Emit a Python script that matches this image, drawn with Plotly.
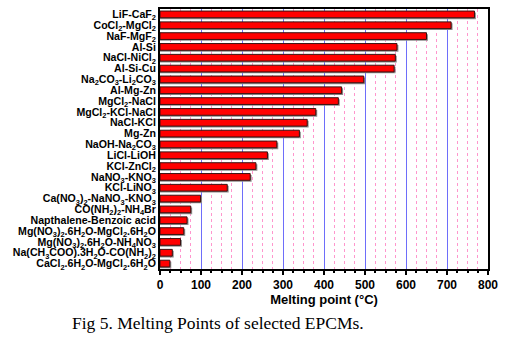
import plotly.graph_objects as go

materials = [
    "LiF-CaF<sub>2</sub>",
    "CoCl<sub>2</sub>-MgCl<sub>2</sub>",
    "NaF-MgF<sub>2</sub>",
    "Al-Si",
    "NaCl-NiCl<sub>2</sub>",
    "Al-Si-Cu",
    "Na<sub>2</sub>CO<sub>3</sub>-Li<sub>2</sub>CO<sub>3</sub>",
    "Al-Mg-Zn",
    "MgCl<sub>2</sub>-NaCl",
    "MgCl<sub>2</sub>-KCl-NaCl",
    "NaCl-KCl",
    "Mg-Zn",
    "NaOH-Na<sub>2</sub>CO<sub>3</sub>",
    "LiCl-LiOH",
    "KCl-ZnCl<sub>2</sub>",
    "NaNO<sub>3</sub>-KNO<sub>3</sub>",
    "KCl-LiNO<sub>3</sub>",
    "Ca(NO<sub>3</sub>)<sub>2</sub>-NaNO<sub>3</sub>-KNO<sub>3</sub>",
    "CO(NH<sub>2</sub>)<sub>2</sub>-NH<sub>4</sub>Br",
    "Napthalene-Benzoic acid",
    "Mg(NO<sub>3</sub>)<sub>2</sub>.6H<sub>2</sub>O-MgCl<sub>2</sub>.6H<sub>2</sub>O",
    "Mg(NO<sub>3</sub>)<sub>2</sub>.6H<sub>2</sub>O-NH<sub>4</sub>NO<sub>3</sub>",
    "Na(CH<sub>3</sub>COO).3H<sub>2</sub>O-CO(NH<sub>2</sub>)<sub>2</sub>",
    "CaCl<sub>2</sub>.6H<sub>2</sub>O-MgCl<sub>2</sub>.6H<sub>2</sub>O",
]
melting_points = [767, 710, 650, 578, 574, 571, 497, 443, 435, 380, 359, 340,
                  285, 262, 234, 220, 164, 99, 75, 66, 58, 50, 30, 24]

x_ticks = [0, 100, 200, 300, 400, 500, 600, 700, 800]

BAR_W = 0.62
positions = list(range(len(materials)))

fig = go.Figure()
# drop shadow
fig.add_trace(go.Bar(
    x=[v + 3.5 for v in melting_points], y=positions, orientation="h",
    width=BAR_W, offset=-BAR_W / 2 + 0.13,
    marker=dict(color="rgb(140,140,140)", line=dict(width=0)),
    hoverinfo="skip", showlegend=False,
))
fig.add_trace(go.Bar(
    x=melting_points, y=positions, orientation="h",
    width=BAR_W, offset=-BAR_W / 2,
    marker=dict(color="#ff0000", line=dict(color="#3a1010", width=1)),
    showlegend=False,
))

fig.update_layout(
    width=521, height=350,
    margin=dict(l=160, r=33, t=7, b=81),
    paper_bgcolor="white", plot_bgcolor="white",
    barmode="overlay",
    font=dict(family="Liberation Sans, Arial, sans-serif", color="black"),
)
fig.update_xaxes(
    range=[0, 800], tickvals=x_ticks, ticktext=[str(t) for t in x_ticks],
    tickfont=dict(size=12, weight="bold"),
    showline=True, linecolor="black", linewidth=2, mirror=True,
    ticks="outside", ticklen=4, tickwidth=1.5, tickcolor="black",
    showgrid=True, gridcolor="rgb(110,110,250)", gridwidth=1,
    minor=dict(dtick=25, showgrid=True, gridcolor="rgb(255,150,205)",
               griddash="dot", gridwidth=1, ticks="outside", ticklen=2,
               tickcolor="black"),
    title=dict(text="<b>Melting point (°C)</b>", font=dict(size=13), standoff=3),
    zeroline=False,
)
fig.update_yaxes(
    range=[len(materials) - 0.5, -0.5],
    tickvals=positions, ticktext=materials,
    tickfont=dict(size=10.6, weight="bold"),
    showline=True, linecolor="black", linewidth=2, mirror=True,
    ticks="", showgrid=False, zeroline=False,
)
fig.add_annotation(
    text="Fig 5. Melting Points of selected EPCMs.",
    xref="paper", yref="paper", x=-0.274, y=-0.206,
    xanchor="left", yanchor="middle", showarrow=False,
    font=dict(family="Liberation Serif, Times New Roman, serif", size=17.5, color="black"),
)

fig.write_html("out.html")
